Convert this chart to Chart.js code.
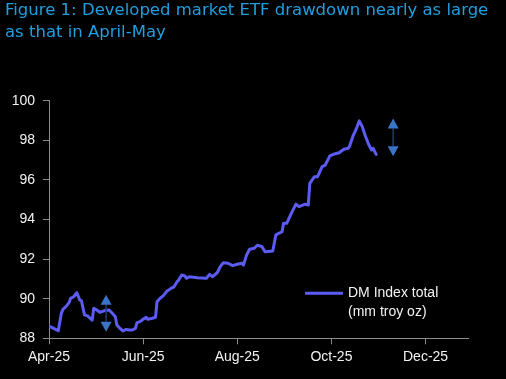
<!DOCTYPE html>
<html>
<head>
<meta charset="utf-8">
<script src="https://cdn.jsdelivr.net/npm/chart.js@4.4.1/dist/chart.umd.min.js"></script>
<style>
  html, body { margin: 0; padding: 0; background: #000; }
  canvas { display: block; }
</style>
</head>
<body>
<canvas id="etfChart" width="506" height="379"></canvas>
<script>
// days counted from 1 Apr 2025
const dayOffsets = [0, 3, 6, 8, 9, 11, 13, 14, 16, 18, 20, 21, 23, 25, 26, 28, 29, 31, 33, 36,
    39, 41, 43, 44, 46, 48, 50, 52, 54, 56, 57, 59, 61, 63, 64, 67, 69, 70, 72, 74,
    76, 79, 81, 83, 84, 86, 88, 89, 91, 96, 102, 104, 106, 109, 111, 113, 116, 119, 122, 125,
    126, 128, 130, 133, 135, 138, 140, 145, 147, 151, 152, 154, 157, 160, 162, 166, 168, 169, 172, 174,
    177, 179, 182, 185, 188, 191, 194, 195, 197, 199, 201, 203, 205, 207, 209, 210, 212];
const dmIndex = [88.62, 88.5, 88.38, 89.26, 89.46, 89.6, 89.8, 90.02, 90.1, 90.3, 89.93, 89.9, 89.18, 89.13, 89.06, 88.92, 89.52, 89.43, 89.31, 89.4,
    89.43, 89.26, 89.09, 88.67, 88.5, 88.37, 88.45, 88.42, 88.42, 88.5, 88.79, 88.84, 88.96, 89.06, 88.96, 89.01, 89.06, 89.85, 90.02, 90.14,
    90.35, 90.52, 90.6, 90.86, 90.94, 91.2, 91.15, 91.03, 91.11, 91.06, 91.03, 91.23, 91.11, 91.31, 91.62, 91.82, 91.79, 91.67, 91.74, 91.79,
    91.7, 92.2, 92.5, 92.55, 92.7, 92.63, 92.37, 92.41, 93.22, 93.38, 93.81, 93.81, 94.31, 94.78, 94.65, 94.78, 94.73, 95.83, 96.16, 96.16,
    96.67, 96.75, 97.21, 97.31, 97.37, 97.55, 97.6, 97.76, 98.22, 98.55, 98.98, 98.69, 98.22, 97.81, 97.51, 97.6, 97.29];

const tickDays = [0, 61, 122, 183, 244];
const tickLabels = ['Apr-25', 'Jun-25', 'Aug-25', 'Oct-25', 'Dec-25'];

// drawdown arrows (day, top value, bottom value)
const arrowDays = [37, 223];
const arrowHigh = [90.2, 99.1];
const arrowLow = [88.33, 97.2];

const legendLines = ['DM Index total', '(mm troy oz)'];
const titleLines = ['Figure 1: Developed market ETF drawdown nearly as large', 'as that in April-May'];

const lineColor = '#5c5cf4';
const axisColor = '#8c8c8c';
const textColor = '#f2f2f2';

// title drawn by hand so the long first line isn't squeezed to the chart width
const titlePlugin = {
    id: 'figTitle',
    afterDraw(chart) {
        const ctx = chart.ctx;
        ctx.save();
        ctx.fillStyle = '#1f9fdf';
        ctx.font = '16.5px "DejaVu Sans", sans-serif';
        ctx.textAlign = 'left';
        ctx.textBaseline = 'alphabetic';
        titleLines.forEach(function (t, i) {
            ctx.fillText(t, 5, 15 + i * 21.7);
        });
        ctx.restore();
    }
};

const arrowsPlugin = {
    id: 'arrows',
    afterDatasetsDraw(chart) {
        const ctx = chart.ctx;
        const xs = chart.scales.x, ys = chart.scales.y;
        ctx.save();
        for (let i = 0; i < arrowDays.length; i++) {
            const x = xs.getPixelForValue(arrowDays[i]);
            const yTop = ys.getPixelForValue(arrowHigh[i]);
            const yBot = ys.getPixelForValue(arrowLow[i]);
            const hw = 5.5, hh = 10;
            ctx.strokeStyle = '#1d3c78';
            ctx.lineWidth = 1.5;
            ctx.beginPath();
            ctx.moveTo(x, yTop + hh);
            ctx.lineTo(x, yBot - hh);
            ctx.stroke();
            ctx.fillStyle = '#3a74c6';
            ctx.beginPath();
            ctx.moveTo(x, yTop);
            ctx.lineTo(x + hw, yTop + hh);
            ctx.lineTo(x - hw, yTop + hh);
            ctx.closePath();
            ctx.fill();
            ctx.beginPath();
            ctx.moveTo(x, yBot);
            ctx.lineTo(x + hw, yBot - hh);
            ctx.lineTo(x - hw, yBot - hh);
            ctx.closePath();
            ctx.fill();
        }
        ctx.restore();
    }
};

const legendPlugin = {
    id: 'insideLegend',
    afterDraw(chart) {
        const ctx = chart.ctx;
        const area = chart.chartArea;
        const x0 = area.right - 163;
        const y0 = area.bottom - 45;
        ctx.save();
        ctx.strokeStyle = lineColor;
        ctx.lineWidth = 3;
        ctx.beginPath();
        ctx.moveTo(x0, y0);
        ctx.lineTo(x0 + 38, y0);
        ctx.stroke();
        ctx.fillStyle = textColor;
        ctx.font = '14px "Liberation Sans", Arial, sans-serif';
        ctx.textAlign = 'left';
        ctx.textBaseline = 'middle';
        legendLines.forEach(function (t, i) {
            ctx.fillText(t, x0 + 43, y0 + i * 18.4);
        });
        ctx.restore();
    }
};

const ctx = document.getElementById('etfChart').getContext('2d');
const etfChart = new Chart(ctx, {
    type: 'line',
    data: {
        datasets: [{
            label: legendLines.join(' '),
            data: dayOffsets.map(function (d, i) { return { x: d, y: dmIndex[i] }; }),
            borderColor: lineColor,
            backgroundColor: lineColor,
            borderWidth: 3,
            pointRadius: 0,
            tension: 0,
            borderJoinStyle: 'round',
            borderCapStyle: 'round'
        }]
    },
    options: {
        responsive: false,
        animation: false,
        layout: { padding: { left: 5, right: 38, top: 100.7, bottom: 0 } },
        plugins: {
            legend: { display: false },
            tooltip: { enabled: false },
            title: { display: false }
        },
        scales: {
            x: {
                type: 'linear',
                min: 0,
                max: 271.5,
                afterBuildTicks: function (axis) {
                    axis.ticks = tickDays.map(function (v) { return { value: v }; });
                },
                afterFit: function (axis) { axis.height = 40.7; },
                ticks: {
                    color: textColor,
                    padding: 4,
                    maxRotation: 0,
                    autoSkip: false,
                    font: { family: '"Liberation Sans", Arial, sans-serif', size: 14 },
                    callback: function (v) {
                        const i = tickDays.indexOf(v);
                        return i >= 0 ? tickLabels[i] : '';
                    }
                },
                grid: { drawOnChartArea: false, drawTicks: true, tickLength: 6, color: axisColor },
                border: { color: axisColor, width: 1 }
            },
            y: {
                min: 88,
                max: 100,
                afterFit: function (axis) { axis.width = 44; },
                ticks: {
                    stepSize: 2,
                    color: textColor,
                    padding: 8,
                    font: { family: '"Liberation Sans", Arial, sans-serif', size: 14 }
                },
                grid: { drawOnChartArea: false, drawTicks: true, tickLength: 6, color: axisColor },
                border: { color: axisColor, width: 1 }
            }
        }
    },
    plugins: [titlePlugin, arrowsPlugin, legendPlugin]
});
</script>
</body>
</html>
